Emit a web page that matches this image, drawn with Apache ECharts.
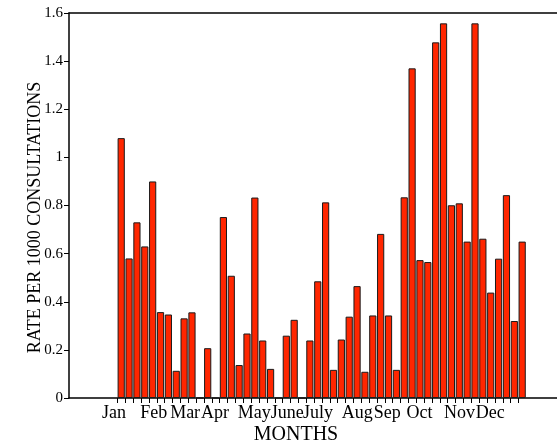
<!DOCTYPE html>
<html>
<head>
<meta charset="utf-8">
<script src="https://cdn.jsdelivr.net/npm/echarts@6/dist/echarts.min.js"></script>
<style>
html,body{margin:0;padding:0;background:#fff;}
#chart{width:557px;height:443px;}
</style>
</head>
<body>
<div id="chart"></div>
<script>
// Weekly rates (weeks 1..52)
const weeklyRates = [
  1.08, 0.58, 0.73, 0.63, 0.90, 0.357, 0.347, 0.113, 0.331, 0.356,
  0, 0.207, 0, 0.752, 0.508, 0.137, 0.268, 0.833, 0.239, 0.121,
  0, 0.259, 0.325, 0, 0.239, 0.485, 0.813, 0.117, 0.243, 0.338,
  0.465, 0.109, 0.343, 0.682, 0.343, 0.117, 0.834, 1.37, 0.573, 0.565,
  1.478, 1.557, 0.801, 0.809, 0.650, 1.557, 0.662, 0.438, 0.579, 0.843,
  0.320, 0.650
];
// Month labels and their positions on the week scale (week 0 = start of first week)
const monthNames = ['Jan','Feb','Mar','Apr','May','June','July','Aug','Sep','Oct','Nov','Dec'];
const monthPositions = [-0.45, 4.6, 8.6, 12.4, 17.4, 21.6, 25.5, 30.5, 34.3, 38.4, 43.5, 47.4];
const yTicks = [0, 0.2, 0.4, 0.6, 0.8, 1, 1.2, 1.4, 1.6];

const weekStarts = weeklyRates.map((v, i) => i);
const barData = weeklyRates.map((v, i) => [i + 0.47, v]);

const FONT = '"Liberation Serif", "Times New Roman", serif';
const chart = echarts.init(document.getElementById('chart'), null, {renderer: 'canvas'});
chart.setOption({
  animation: false,
  backgroundColor: '#ffffff',
  grid: {left: 69, right: 0, top: 13, bottom: 45, outerBoundsMode: 'none', containLabel: false},
  xAxis: [{
    type: 'value',
    min: -6.17,
    max: 55.9,
    name: 'MONTHS',
    nameLocation: 'middle',
    nameGap: 27,
    nameMoveOverlap: false,
    nameTextStyle: {fontFamily: FONT, fontSize: 20, color: '#000', padding: [0, 34, 0, 0]},
    axisLine: {show: true, onZero: false, lineStyle: {color: '#000', width: 1.5}},
    axisTick: {show: true, length: 5, customValues: weekStarts, lineStyle: {color: '#000', width: 1}},
    axisLabel: {
      show: true,
      customValues: monthPositions,
      margin: 6,
      fontFamily: FONT, fontSize: 18, color: '#000',
      formatter: function (v) {
        let best = 0, d = Infinity;
        monthPositions.forEach((p, i) => { if (Math.abs(p - v) < d) { d = Math.abs(p - v); best = i; } });
        return monthNames[best];
      }
    },
    splitLine: {show: false}
  }, {
    type: 'value',
    position: 'top',
    min: -6.17,
    max: 55.9,
    axisLine: {show: true, onZero: false, lineStyle: {color: '#000', width: 1.5}},
    axisTick: {show: false},
    axisLabel: {show: false},
    splitLine: {show: false}
  }],
  yAxis: {
    type: 'value',
    min: 0,
    max: 1.6,
    interval: 0.2,
    name: 'RATE PER 1000 CONSULTATIONS',
    nameLocation: 'middle',
    nameGap: 25,
    nameMoveOverlap: false,
    nameTextStyle: {fontFamily: FONT, fontSize: 18, color: '#000', padding: [0, 24, 0, 0]},
    axisLine: {show: true, onZero: false, lineStyle: {color: '#000', width: 1.5}},
    axisTick: {show: true, length: 5, lineStyle: {color: '#000', width: 1}},
    axisLabel: {
      margin: 6, fontFamily: FONT, fontSize: 15, color: '#000',
      formatter: function (v) { return String(+v.toFixed(1)); }
    },
    splitLine: {show: false}
  },
  series: [{
    type: 'bar',
    xAxisIndex: 0,
    data: barData,
    barWidth: 7.2,
    itemStyle: {color: '#ff2600', borderColor: '#1a1a1a', borderWidth: 1}
  }]
});
</script>
</body>
</html>
